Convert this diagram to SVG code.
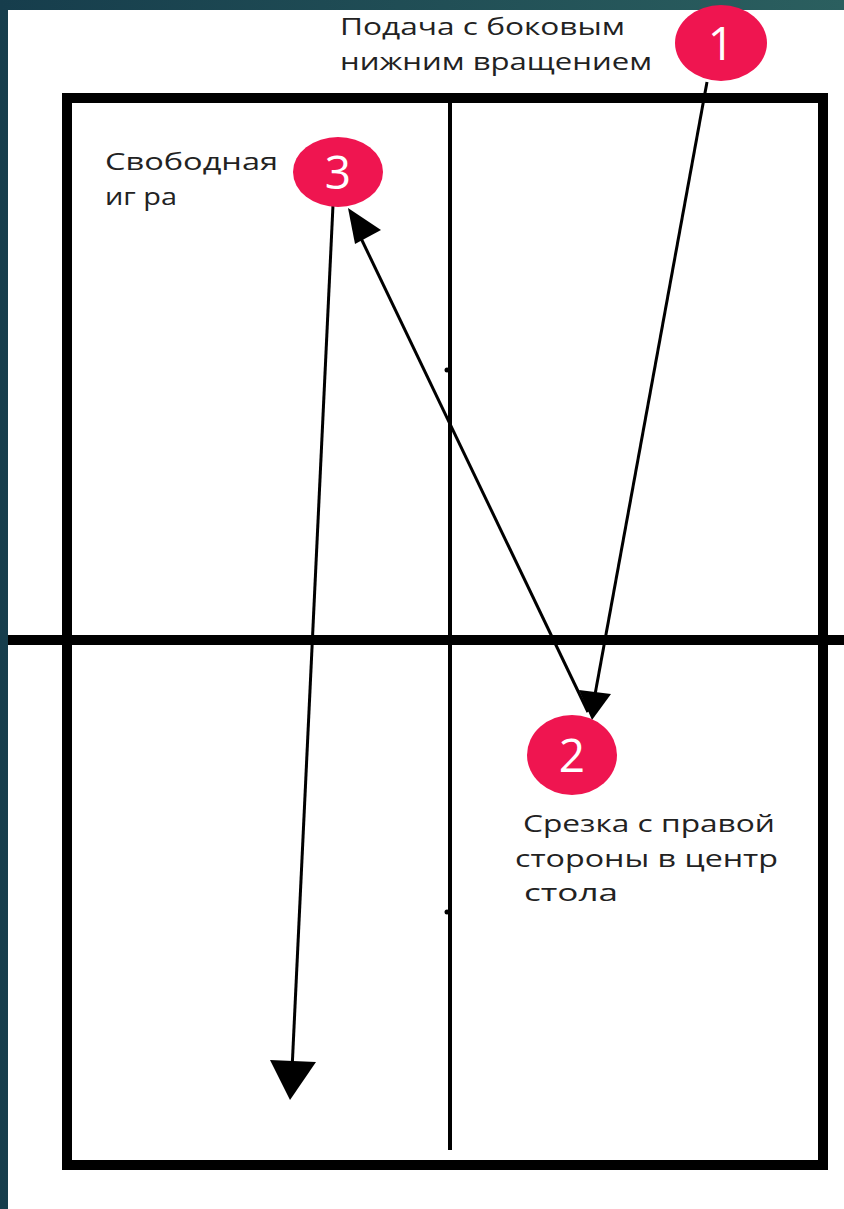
<svg xmlns="http://www.w3.org/2000/svg" width="844" height="1209" viewBox="0 0 844 1209">
<defs>
<linearGradient id="bg" x1="0" y1="0" x2="1" y2="0">
<stop offset="0" stop-color="#163d4c"/>
<stop offset="1" stop-color="#2b5f5f"/>
</linearGradient>
<style>
.lbl{font-family:"Open Sans","DejaVu Sans",sans-serif;font-size:24px;fill:#222}
.num{font-family:"Open Sans","DejaVu Sans",sans-serif;font-size:46px;fill:#fff;text-anchor:middle}
.badge{fill:#ef1550}
.line{stroke:#000;stroke-width:3;fill:none}
.head{fill:#000}
</style>
</defs>
<rect x="0" y="0" width="844" height="1209" fill="url(#bg)"/>
<rect x="8" y="10" width="836" height="1199" fill="#fff"/>
<g id="table">
<rect x="67" y="98" width="756" height="1067" fill="none" stroke="#000" stroke-width="10"/>
<line x1="450" y1="103" x2="450" y2="1150" stroke="#000" stroke-width="4"/>
<line x1="8" y1="640" x2="844" y2="640" stroke="#000" stroke-width="10"/>
<circle cx="447" cy="370" r="2.5" fill="#000"/>
<circle cx="447" cy="912" r="2.5" fill="#000"/>
</g>
<g id="connectors">
<line class="line" x1="707" y1="82" x2="594" y2="700"/>
<polygon class="head" points="579,690 611,694 592,720"/>
<line class="line" x1="588" y1="712" x2="358" y2="232"/>
<polygon class="head" points="348,208 381,230 355,244"/>
<line class="line" x1="333" y1="205" x2="292" y2="1070"/>
<polygon class="head" points="270,1060 316,1062 290,1100"/>
</g>
<g id="node1">
<ellipse class="badge" cx="721" cy="43" rx="46" ry="38"/>
<text class="num" x="721" y="60">1</text>
<text class="lbl" x="340" y="35" textLength="285" lengthAdjust="spacingAndGlyphs">Подача с боковым</text>
<text class="lbl" x="340" y="70" textLength="312" lengthAdjust="spacingAndGlyphs">нижним вращением</text>
</g>
<g id="node3">
<ellipse class="badge" cx="338" cy="172" rx="45" ry="35"/>
<text class="num" x="338" y="189">3</text>
<text class="lbl" x="105" y="170" textLength="173" lengthAdjust="spacingAndGlyphs">Свободная</text>
<text class="lbl" x="105" y="205" textLength="72" lengthAdjust="spacingAndGlyphs">иг ра</text>
</g>
<g id="node2">
<ellipse class="badge" cx="572" cy="755" rx="45" ry="40"/>
<text class="num" x="572" y="772">2</text>
<text class="lbl" x="523" y="832" textLength="252" lengthAdjust="spacingAndGlyphs">Срезка с правой</text>
<text class="lbl" x="515" y="867" textLength="263" lengthAdjust="spacingAndGlyphs">стороны в центр</text>
<text class="lbl" x="524" y="901" textLength="94" lengthAdjust="spacingAndGlyphs">стола</text>
</g>
</svg>
